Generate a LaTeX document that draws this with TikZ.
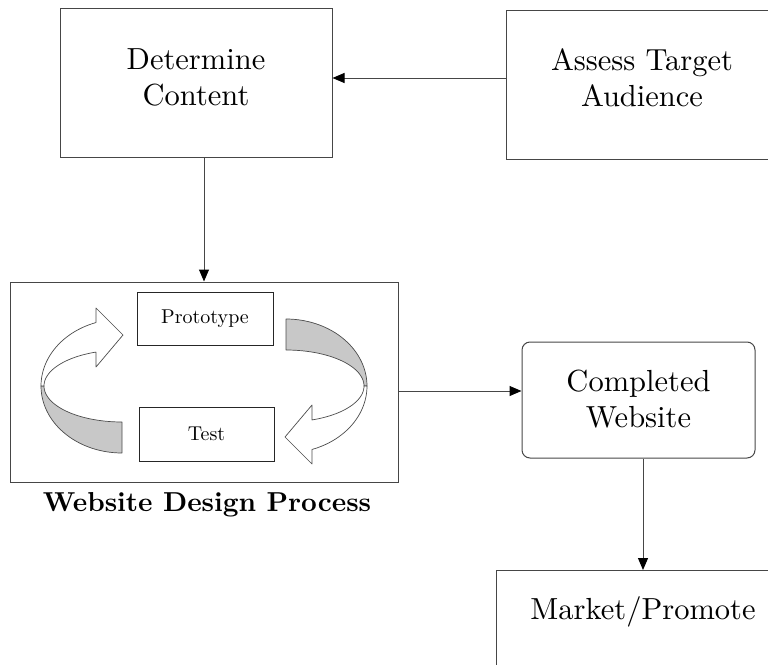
\documentclass[tikz,border=0pt]{standalone}
\usepackage{fontspec}
\setmainfont{lmroman10-regular.otf}[BoldFont=lmroman10-bold.otf]
\usetikzlibrary{arrows.meta}
\definecolor{bandgray}{RGB}{200,200,200}
\definecolor{linegray}{RGB}{70,70,70}
\begin{document}
\begin{tikzpicture}[x=1pt,y=-1pt,
  box/.style={draw=linegray, line width=1pt, inner sep=0pt},
  bigtext/.style={inner sep=0pt, align=center, font=\fontsize{30.5}{36}\selectfont},
  smallbox/.style={draw=black!85, line width=1pt, inner sep=0pt,
    font=\fontsize{20}{24}\selectfont},
  link/.style={draw=linegray, line width=1pt, -{Triangle[length=12pt,width=10pt,color=black]}},
  band/.style={draw=black!70, line width=0.7pt, line join=round},
]
\useasboundingbox (0,0) rectangle (768,664);
\clip (0,0) rectangle (768,664);

% top row
\node[box, minimum width=272pt, minimum height=149pt] (determine) at (196,82.5) {};
\node[bigtext] (determinelabel) at (196,77) {Determine\\Content};
\node[box, minimum width=272pt, minimum height=149pt] (assess) at (642,84.5) {};
\node[bigtext] (assesslabel) at (642,78) {Assess Target\\Audience};

% design process
\node[box, minimum width=388pt, minimum height=200pt] (design) at (204,382) {};
\node[smallbox, minimum width=136pt, minimum height=53pt] (proto) at (205,318.5) {Prototype};
\node[smallbox, minimum width=135pt, minimum height=54pt] (test) at (206.5,434) {Test};
\node[font=\bfseries\fontsize{27.4}{32}\selectfont, inner sep=0pt] (caption) at (207,505) {Website Design Process};

% circular arrows
\begin{scope}[shift={(122,386)}]
  \filldraw[band, fill=bandgray]
    plot[domain=90:180, samples=30] ({81*cos(\x)},{67*sin(\x)})
    -- plot[domain=180:90, samples=30] ({78*cos(\x)},{36*sin(\x)}) -- cycle;
  \filldraw[band, fill=white]
    plot[domain=180:251.3, samples=30] ({81*cos(\x)},{67*sin(\x)})
    -- (-26,-78) -- (1,-51) -- (-26,-19)
    -- plot[domain=250.5:180, samples=30] ({78*cos(\x)},{36*sin(\x)}) -- cycle;
\end{scope}
\begin{scope}[rotate around={180:(204,386)}, shift={(122,386)}]
  \filldraw[band, fill=bandgray]
    plot[domain=90:180, samples=30] ({81*cos(\x)},{67*sin(\x)})
    -- plot[domain=180:90, samples=30] ({78*cos(\x)},{36*sin(\x)}) -- cycle;
  \filldraw[band, fill=white]
    plot[domain=180:251.3, samples=30] ({81*cos(\x)},{67*sin(\x)})
    -- (-26,-78) -- (1,-51) -- (-26,-19)
    -- plot[domain=250.5:180, samples=30] ({78*cos(\x)},{36*sin(\x)}) -- cycle;
\end{scope}

% right column
\node[box, rounded corners=8pt, minimum width=233pt, minimum height=116pt] (completed) at (638.5,400) {};
\node[bigtext] (completedlabel) at (638.5,399) {Completed\\Website};
\node[box, minimum width=294pt, minimum height=150pt, anchor=north] (market) at (643,570) {};
\node[bigtext] (marketlabel) at (643,612) {Market/Promote};

% connectors
\draw[link] ([yshift=6.5pt]assess.west) -- ([yshift=6.5pt]assess.west -| determine.east);
\draw[link] (design.north |- determine.south) -- (design.north);
\draw[link] ([yshift=-9pt]design.east) -- ([yshift=-9pt]design.east -| completed.west);
\draw[link] (market.north |- completed.south) -- (market.north);
\end{tikzpicture}
\end{document}
